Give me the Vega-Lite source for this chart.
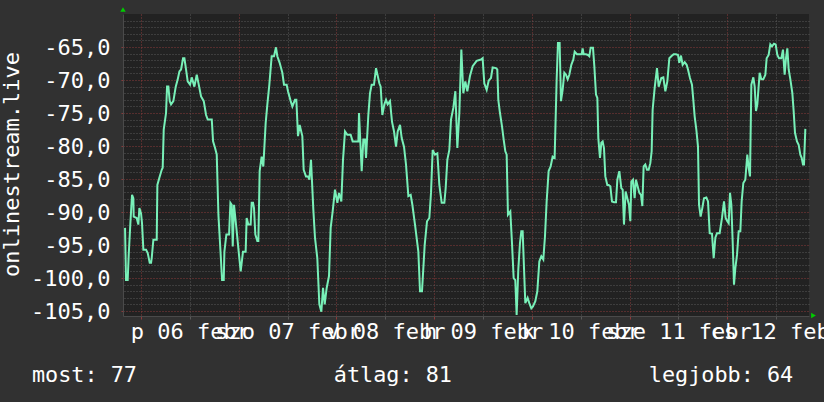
{
  "$schema": "https://vega.github.io/schema/vega-lite/v6.json",
  "width": 686,
  "height": 302,
  "autosize": {"type": "none"},
  "padding": {"left": 123, "top": 14, "right": 15, "bottom": 86},
  "background": "#313131",
  "config": {
    "view": {"fill": "#222222", "stroke": null},
    "font": "DejaVu Sans Mono",
    "axis": {
      "labelFont": "DejaVu Sans Mono",
      "titleFont": "DejaVu Sans Mono",
      "labelFontSize": 22,
      "titleFontSize": 22,
      "titleFontWeight": "normal",
      "labelColor": "#ffffff",
      "titleColor": "#ffffff",
      "domainColor": "#4a4a4a",
      "gridDash": [1, 2],
      "gridOpacity": 1,
      "labelOverlap": false
    }
  },
  "resolve": {"axis": {"y": "independent"}},
  "data": {
    "values": [
      {"h": 20.08, "v": -92.4}, {"h": 20.32, "v": -100.3}, {"h": 20.73, "v": -100.3}, {"h": 20.98, "v": -96.5},
      {"h": 21.39, "v": -91.7}, {"h": 21.8, "v": -87.4}, {"h": 22.12, "v": -87.9}, {"h": 22.21, "v": -90.7},
      {"h": 22.94, "v": -90.9}, {"h": 23.35, "v": -91.9}, {"h": 23.6, "v": -89.4}, {"h": 24.01, "v": -90.2},
      {"h": 24.25, "v": -91.7}, {"h": 24.58, "v": -95.7}, {"h": 25.24, "v": -95.7}, {"h": 25.65, "v": -96.2},
      {"h": 26.14, "v": -97.7}, {"h": 26.47, "v": -97.7}, {"h": 26.63, "v": -97.0}, {"h": 27.04, "v": -94.2},
      {"h": 27.86, "v": -94.2}, {"h": 28.02, "v": -85.9}, {"h": 28.51, "v": -84.8}, {"h": 29.09, "v": -83.6},
      {"h": 29.33, "v": -83.3}, {"h": 29.58, "v": -77.5}, {"h": 30.15, "v": -75.0}, {"h": 30.4, "v": -71.0},
      {"h": 30.72, "v": -71.0}, {"h": 31.05, "v": -73.2}, {"h": 31.38, "v": -73.7}, {"h": 31.95, "v": -73.2},
      {"h": 32.53, "v": -71.0}, {"h": 33.02, "v": -69.9}, {"h": 33.43, "v": -68.7}, {"h": 33.84, "v": -68.4},
      {"h": 34.33, "v": -66.7}, {"h": 34.66, "v": -66.7}, {"h": 35.06, "v": -68.4}, {"h": 35.47, "v": -70.2},
      {"h": 36.05, "v": -70.7}, {"h": 36.46, "v": -69.6}, {"h": 37.11, "v": -71.0}, {"h": 37.69, "v": -69.2},
      {"h": 38.18, "v": -70.7}, {"h": 38.75, "v": -72.5}, {"h": 39.41, "v": -73.2}, {"h": 39.98, "v": -75.3},
      {"h": 40.39, "v": -76.0}, {"h": 41.38, "v": -76.0}, {"h": 41.7, "v": -79.3}, {"h": 42.19, "v": -80.3},
      {"h": 42.6, "v": -81.3}, {"h": 43.01, "v": -90.4}, {"h": 43.5, "v": -95.7}, {"h": 43.91, "v": -100.3},
      {"h": 44.32, "v": -100.3}, {"h": 44.48, "v": -96.0}, {"h": 44.97, "v": -93.4}, {"h": 45.63, "v": -93.4},
      {"h": 45.96, "v": -88.6}, {"h": 46.28, "v": -88.9}, {"h": 46.53, "v": -95.2},
      {"h": 46.84, "v": -88.9}, {"h": 47.5, "v": -92.9}, {"h": 47.99, "v": -96.0}, {"h": 48.48, "v": -99.0},
      {"h": 49.05, "v": -96.0}, {"h": 49.7, "v": -96.0}, {"h": 49.95, "v": -90.9}, {"h": 50.36, "v": -91.9},
      {"h": 50.93, "v": -91.9}, {"h": 51.18, "v": -88.6}, {"h": 51.51, "v": -88.6}, {"h": 51.75, "v": -89.4},
      {"h": 52.08, "v": -93.4}, {"h": 52.57, "v": -94.4}, {"h": 52.82, "v": -94.4}, {"h": 53.14, "v": -83.8},
      {"h": 53.63, "v": -81.6}, {"h": 54.04, "v": -83.1}, {"h": 54.62, "v": -76.5}, {"h": 55.03, "v": -73.7},
      {"h": 55.52, "v": -70.7}, {"h": 56.09, "v": -66.4}, {"h": 56.66, "v": -66.4}, {"h": 57.15, "v": -65.05},
      {"h": 57.48, "v": -66.4}, {"h": 58.05, "v": -67.4}, {"h": 58.71, "v": -68.9}, {"h": 59.12, "v": -70.7},
      {"h": 59.77, "v": -70.7}, {"h": 60.1, "v": -71.7}, {"h": 60.76, "v": -73.2}, {"h": 61.17, "v": -74.0},
      {"h": 61.82, "v": -73.0}, {"h": 62.15, "v": -73.0}, {"h": 62.56, "v": -78.5}, {"h": 62.97, "v": -76.8},
      {"h": 63.62, "v": -78.5}, {"h": 63.95, "v": -83.6}, {"h": 64.52, "v": -84.6}, {"h": 65.01, "v": -84.6},
      {"h": 65.34, "v": -85.1}, {"h": 65.75, "v": -82.1}, {"h": 66.32, "v": -89.6}, {"h": 66.73, "v": -93.9},
      {"h": 67.3, "v": -97.0}, {"h": 67.8, "v": -104.0}, {"h": 68.29, "v": -105.1}, {"h": 68.7, "v": -101.5},
      {"h": 69.11, "v": -104.0}, {"h": 69.6, "v": -101.5}, {"h": 70.17, "v": -99.7}, {"h": 70.58, "v": -92.4},
      {"h": 71.07, "v": -89.9}, {"h": 71.64, "v": -86.6}, {"h": 72.22, "v": -88.6}, {"h": 72.63, "v": -87.1},
      {"h": 73.2, "v": -88.4}, {"h": 73.61, "v": -82.1}, {"h": 74.1, "v": -77.8}, {"h": 74.67, "v": -78.3},
      {"h": 75.49, "v": -78.3},
      {"h": 75.98, "v": -79.3}, {"h": 77.38, "v": -79.3}, {"h": 77.54, "v": -75.0}, {"h": 78.2, "v": -83.8},
      {"h": 78.6, "v": -79.0}, {"h": 79.01, "v": -79.0}, {"h": 79.26, "v": -81.8}, {"h": 79.83, "v": -75.3},
      {"h": 80.24, "v": -72.0}, {"h": 80.65, "v": -70.7}, {"h": 81.22, "v": -70.7}, {"h": 81.72, "v": -68.2},
      {"h": 82.53, "v": -70.5}, {"h": 82.86, "v": -71.0}, {"h": 83.27, "v": -75.3}, {"h": 83.76, "v": -73.7},
      {"h": 84.17, "v": -73.0}, {"h": 84.58, "v": -73.7}, {"h": 85.15, "v": -73.2}, {"h": 85.64, "v": -76.3},
      {"h": 86.14, "v": -77.8}, {"h": 86.63, "v": -80.1}, {"h": 87.04, "v": -77.8}, {"h": 87.61, "v": -76.8},
      {"h": 88.02, "v": -78.8}, {"h": 88.59, "v": -80.1}, {"h": 89.08, "v": -82.8}, {"h": 89.66, "v": -87.6},
      {"h": 90.23, "v": -87.4}, {"h": 90.64, "v": -88.9}, {"h": 91.29, "v": -91.9}, {"h": 92.11, "v": -96.0},
      {"h": 92.52, "v": -102.0}, {"h": 93.01, "v": -102.0}, {"h": 93.67, "v": -95.0}, {"h": 94.24, "v": -91.4},
      {"h": 94.81, "v": -90.9}, {"h": 95.22, "v": -87.1}, {"h": 95.63, "v": -80.6}, {"h": 96.2, "v": -81.3},
      {"h": 96.78, "v": -81.1}, {"h": 97.27, "v": -85.9}, {"h": 97.84, "v": -88.6}, {"h": 98.5, "v": -88.6},
      {"h": 98.82, "v": -86.4}, {"h": 99.23, "v": -82.1}, {"h": 99.72, "v": -80.6}, {"h": 100.13, "v": -76.0},
      {"h": 100.71, "v": -74.2}, {"h": 101.2, "v": -71.7}, {"h": 101.69, "v": -80.3}, {"h": 102.18, "v": -75.0},
      {"h": 102.67, "v": -65.4}, {"h": 103.16, "v": -72.0}, {"h": 103.65, "v": -70.2}, {"h": 104.14, "v": -71.7},
      {"h": 104.79, "v": -69.4}, {"h": 105.45, "v": -67.9}, {"h": 106.43, "v": -67.1}, {"h": 107.49, "v": -66.9},
      {"h": 107.9, "v": -66.7}, {"h": 108.31, "v": -70.5}, {"h": 108.89, "v": -71.5}, {"h": 109.38, "v": -70.1},
      {"h": 109.95, "v": -69.7}, {"h": 110.36, "v": -68.1}, {"h": 111.18, "v": -68.2}, {"h": 111.5, "v": -68.4},
      {"h": 111.75, "v": -73.0}, {"h": 112.16, "v": -75.0}, {"h": 112.65, "v": -77.0}, {"h": 113.06, "v": -79.0},
      {"h": 113.47, "v": -80.8}, {"h": 113.8, "v": -81.3}, {"h": 114.12, "v": -90.4}, {"h": 114.7, "v": -89.9},
      {"h": 115.11, "v": -94.7}, {"h": 115.52, "v": -100.0}, {"h": 115.92, "v": -100.3}, {"h": 116.25, "v": -105.6},
      {"h": 116.66, "v": -98.7}, {"h": 117.07, "v": -94.7}, {"h": 117.4, "v": -92.9}, {"h": 117.73, "v": -92.9},
      {"h": 117.97, "v": -97.0}, {"h": 118.38, "v": -103.8}, {"h": 118.95, "v": -103.0}, {"h": 119.36, "v": -103.8},
      {"h": 119.85, "v": -104.6}, {"h": 120.26, "v": -104.3}, {"h": 120.84, "v": -103.5}, {"h": 121.33, "v": -102.0},
      {"h": 121.82, "v": -97.5}, {"h": 122.31, "v": -96.7}, {"h": 122.8, "v": -97.2}, {"h": 123.21, "v": -93.7},
      {"h": 123.62, "v": -88.4}, {"h": 124.11, "v": -83.8}, {"h": 124.6, "v": -83.1}, {"h": 125.09, "v": -81.6},
      {"h": 125.58, "v": -81.8}, {"h": 126.08, "v": -69.9}, {"h": 126.4, "v": -64.4}, {"h": 126.81, "v": -64.4},
      {"h": 127.14, "v": -73.2}, {"h": 127.55, "v": -71.5}, {"h": 127.96, "v": -68.9}, {"h": 128.37, "v": -69.2},
      {"h": 128.78, "v": -69.9}, {"h": 129.19, "v": -69.2}, {"h": 129.68, "v": -67.7}, {"h": 130.17, "v": -66.9},
      {"h": 130.5, "v": -65.7}, {"h": 131.07, "v": -66.1}, {"h": 131.64, "v": -66.1}, {"h": 132.22, "v": -66.1},
      {"h": 132.46, "v": -65.2},
      {"h": 132.71, "v": -66.1}, {"h": 133.28, "v": -66.1}, {"h": 133.77, "v": -66.2}, {"h": 134.1, "v": -66.4},
      {"h": 134.43, "v": -65.1}, {"h": 135.0, "v": -65.1}, {"h": 135.33, "v": -67.9}, {"h": 135.74, "v": -72.2},
      {"h": 136.07, "v": -72.7}, {"h": 136.31, "v": -78.8}, {"h": 136.72, "v": -81.8}, {"h": 137.05, "v": -79.5},
      {"h": 137.38, "v": -79.3}, {"h": 137.7, "v": -80.3}, {"h": 138.03, "v": -84.6}, {"h": 138.52, "v": -85.9},
      {"h": 138.85, "v": -85.9}, {"h": 139.26, "v": -86.1}, {"h": 139.67, "v": -88.4}, {"h": 140.16, "v": -88.5},
      {"h": 140.65, "v": -88.5}, {"h": 140.98, "v": -85.1}, {"h": 141.47, "v": -83.8}, {"h": 141.96, "v": -86.4},
      {"h": 142.29, "v": -86.6}, {"h": 142.61, "v": -91.9}, {"h": 143.02, "v": -86.9}, {"h": 143.43, "v": -87.9},
      {"h": 143.84, "v": -88.9}, {"h": 144.17, "v": -91.4}, {"h": 144.42, "v": -85.4}, {"h": 144.82, "v": -85.1},
      {"h": 145.23, "v": -87.9}, {"h": 145.56, "v": -85.1}, {"h": 145.89, "v": -85.9}, {"h": 146.38, "v": -87.1},
      {"h": 146.79, "v": -87.4}, {"h": 147.12, "v": -89.1}, {"h": 147.44, "v": -83.1}, {"h": 147.85, "v": -82.8},
      {"h": 148.26, "v": -83.6}, {"h": 148.67, "v": -83.6}, {"h": 149.08, "v": -82.6}, {"h": 149.41, "v": -80.8},
      {"h": 149.65, "v": -74.5}, {"h": 150.15, "v": -71.2}, {"h": 150.72, "v": -68.2}, {"h": 151.13, "v": -71.0},
      {"h": 151.78, "v": -69.7}, {"h": 152.27, "v": -69.6}, {"h": 152.77, "v": -71.7}, {"h": 153.26, "v": -70.2},
      {"h": 153.75, "v": -66.7}, {"h": 154.24, "v": -66.4}, {"h": 154.81, "v": -66.1}, {"h": 155.38, "v": -66.1},
      {"h": 155.88, "v": -66.2}, {"h": 156.2, "v": -67.4}, {"h": 156.61, "v": -66.3}, {"h": 157.02, "v": -67.7},
      {"h": 157.51, "v": -67.3}, {"h": 158.0, "v": -67.7}, {"h": 158.33, "v": -68.4}, {"h": 158.82, "v": -69.7},
      {"h": 159.31, "v": -70.7}, {"h": 159.64, "v": -73.0}, {"h": 159.97, "v": -75.5}, {"h": 160.38, "v": -77.5},
      {"h": 160.79, "v": -80.1},
      {"h": 161.04, "v": -88.9}, {"h": 161.44, "v": -90.7}, {"h": 161.85, "v": -89.4}, {"h": 162.26, "v": -87.9},
      {"h": 162.84, "v": -87.8}, {"h": 163.25, "v": -88.4}, {"h": 163.66, "v": -93.2}, {"h": 164.23, "v": -93.3},
      {"h": 164.64, "v": -97.0}, {"h": 165.05, "v": -93.9}, {"h": 165.46, "v": -93.2}, {"h": 166.11, "v": -93.2},
      {"h": 166.68, "v": -90.9}, {"h": 167.18, "v": -88.4}, {"h": 167.58, "v": -90.9}, {"h": 167.99, "v": -91.4},
      {"h": 168.32, "v": -91.7}, {"h": 168.65, "v": -87.1}, {"h": 168.98, "v": -88.9}, {"h": 169.3, "v": -94.4},
      {"h": 169.63, "v": -101.0}, {"h": 169.96, "v": -98.5}, {"h": 170.37, "v": -96.5}, {"h": 170.78, "v": -92.9},
      {"h": 171.19, "v": -92.9}, {"h": 171.51, "v": -88.4}, {"h": 171.92, "v": -85.6}, {"h": 172.41, "v": -85.1},
      {"h": 172.9, "v": -81.3}, {"h": 173.23, "v": -83.3}, {"h": 173.56, "v": -84.6}, {"h": 173.89, "v": -70.7},
      {"h": 174.38, "v": -69.6}, {"h": 174.71, "v": -71.0}, {"h": 175.03, "v": -74.7}, {"h": 175.36, "v": -73.7},
      {"h": 175.93, "v": -68.9}, {"h": 176.34, "v": -69.9}, {"h": 176.83, "v": -69.9}, {"h": 177.33, "v": -69.2},
      {"h": 177.65, "v": -66.7}, {"h": 178.14, "v": -66.2}, {"h": 178.55, "v": -64.6}, {"h": 178.96, "v": -64.9},
      {"h": 179.45, "v": -64.5}, {"h": 179.86, "v": -64.6}, {"h": 180.27, "v": -66.2}, {"h": 180.68, "v": -66.7},
      {"h": 181.26, "v": -66.7}, {"h": 181.66, "v": -65.4}, {"h": 182.07, "v": -69.2}, {"h": 182.4, "v": -66.7},
      {"h": 182.73, "v": -65.2}, {"h": 183.06, "v": -68.4}, {"h": 183.47, "v": -69.9}, {"h": 183.96, "v": -72.0},
      {"h": 184.28, "v": -74.7}, {"h": 184.61, "v": -78.0}, {"h": 185.1, "v": -79.3}, {"h": 185.51, "v": -79.8},
      {"h": 185.92, "v": -81.3}, {"h": 186.25, "v": -81.8}, {"h": 186.57, "v": -82.8}, {"h": 186.82, "v": -82.8},
      {"h": 187.15, "v": -77.4}
    ]
  },
  "layer": [
    {
      "mark": {"type": "line", "color": "#78f0b8", "strokeWidth": 2, "clip": true, "strokeJoin": "miter"},
      "encoding": {
        "x": {
          "field": "h",
          "type": "quantitative",
          "scale": {"domain": [19.58, 188.05], "nice": false, "zero": false},
          "axis": {
            "values": [24, 30, 36, 42, 48, 54, 60, 66, 72, 78, 84, 90, 96, 102, 108, 114, 120, 126, 132, 138, 144, 150, 156, 162, 168, 174, 180, 186],
            "grid": true,
            "gridColor": {"condition": {"test": "datum.value % 24 === 0", "value": "#8a3a3a"}, "value": "#585858"},
            "tickColor": {"condition": {"test": "datum.value % 24 === 0", "value": "#8a3a3a"}, "value": "#585858"},
            "tickSize": 3,
            "labelExpr": "datum.value % 24 === 12 ? ['p 06 febr','szo 07 febr','v 08 febr','h 09 febr','k 10 febr','sze 11 febr','cs 12 febr'][floor(datum.value / 24) - 1] : ''",
            "labelOverlap": false,
            "labelFlush": false,
            "labelBound": false,
            "labelPadding": 2,
            "title": "most: 77\u00a0\u00a0\u00a0\u00a0\u00a0\u00a0\u00a0\u00a0\u00a0\u00a0\u00a0\u00a0\u00a0\u00a0\u00a0átlag: 81\u00a0\u00a0\u00a0\u00a0\u00a0\u00a0\u00a0\u00a0\u00a0\u00a0\u00a0\u00a0\u00a0\u00a0\u00a0legjobb: 64",
            "titleFontSize": 21.8,
            "titleAlign": "left",
            "titleAnchor": "start",
            "titleBaseline": "alphabetic",
            "titleX": -91.5,
            "titleY": 65
          }
        },
        "y": {
          "field": "v",
          "type": "quantitative",
          "scale": {"domain": [-105.75, -60], "nice": false, "zero": false},
          "axis": {
            "orient": "left",
            "values": [-105, -100, -95, -90, -85, -80, -75, -70, -65],
            "grid": true,
            "gridColor": "#8a3a3a",
            "tickColor": "#8a3a3a",
            "tickSize": 2,
            "labelExpr": "'-' + replace(format(-datum.value, '.1f'), '.', ',')",
            "labelOverlap": false,
            "labelBound": false,
            "labelFlush": false,
            "labelPadding": 11,
            "labelBaseline": "middle",
            "title": "onlinestream.live",
            "titleAngle": -90,
            "titleAlign": "center",
            "titleBaseline": "alphabetic",
            "titleX": -104.7,
            "titleY": 150
          }
        }
      }
    },
    {
      "data": {"values": [{}]},
      "mark": {"type": "point", "shape": "triangle-up", "filled": true, "color": "#00cc00", "opacity": 1, "size": 30, "yOffset": -4.5},
      "encoding": {
        "x": {"datum": 19.58, "type": "quantitative"},
        "y": {
          "datum": -60,
          "type": "quantitative",
          "axis": {
            "orient": "right",
            "values": [-104, -103, -102, -101, -99, -98, -97, -96, -94, -93, -92, -91, -89, -88, -87, -86, -84, -83, -82, -81, -79, -78, -77, -76, -74, -73, -72, -71, -69, -68, -67, -66, -64, -63, -62, -61],
            "grid": true,
            "gridColor": "#585858",
            "labels": false,
            "ticks": false,
            "domain": false,
            "title": null
          }
        }
      }
    },
    {
      "data": {"values": [{}]},
      "mark": {"type": "point", "shape": "triangle-right", "filled": true, "color": "#00cc00", "opacity": 1, "size": 30, "xOffset": 4.5, "yOffset": -0.5},
      "encoding": {
        "x": {"datum": 188.05, "type": "quantitative"},
        "y": {"datum": -105.75, "type": "quantitative", "axis": null}
      }
    }
  ]
}
